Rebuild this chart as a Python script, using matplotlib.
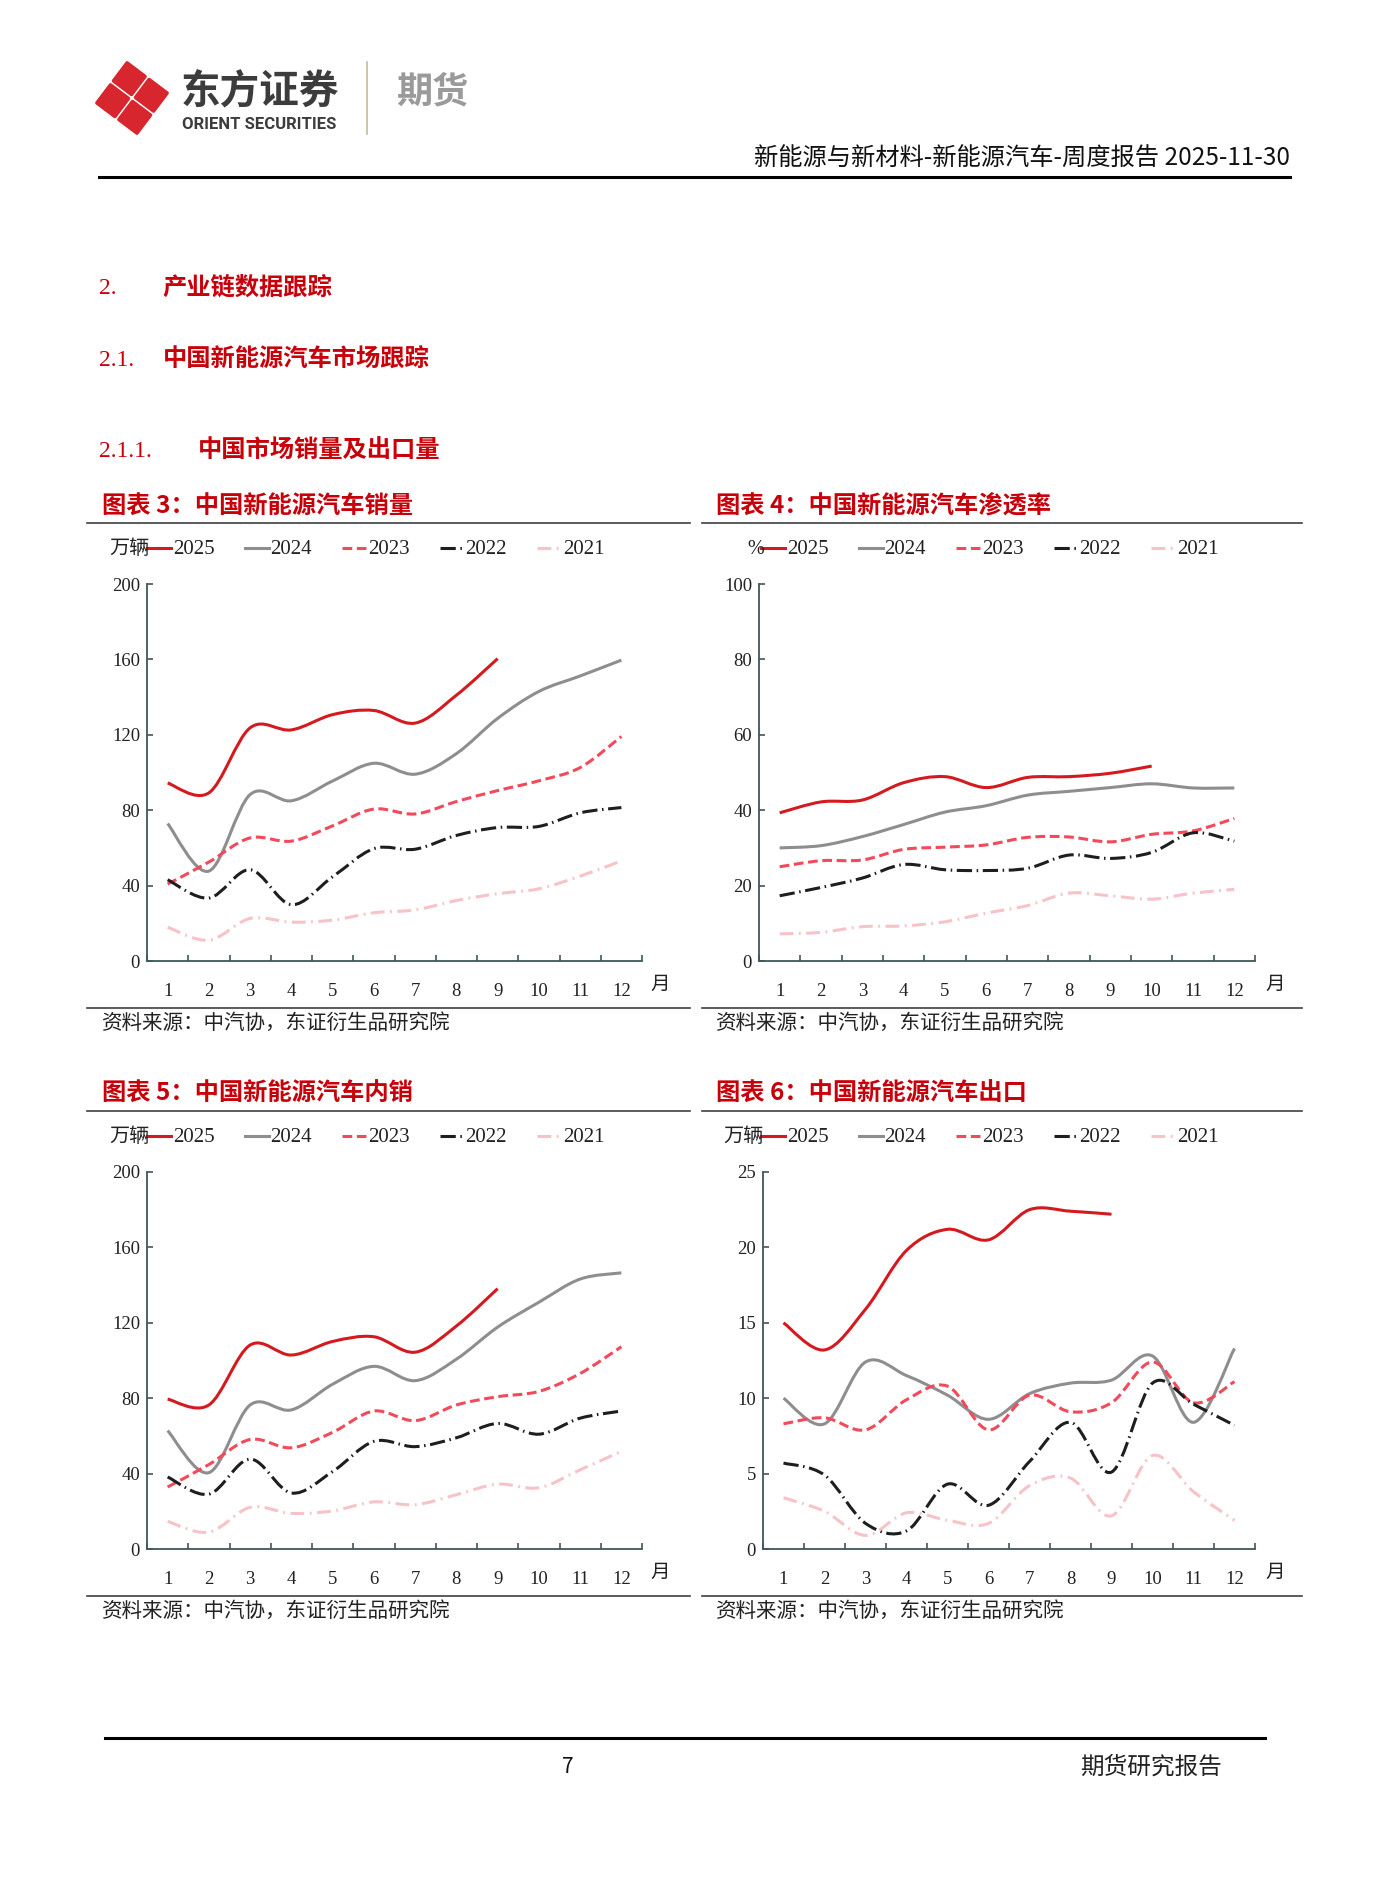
import numpy as np
import matplotlib
matplotlib.use("Agg")
import matplotlib.pyplot as plt
from matplotlib.path import Path
from matplotlib.patches import PathPatch, Polygon
from matplotlib.lines import Line2D

plt.rcParams["font.family"] = ["Liberation Serif", "Noto Sans CJK SC"]

# ---- data ----
months = list(range(1, 13))
month_labels = [str(m) for m in months]
years = ["2025", "2024", "2023", "2022", "2021"]

# 中国新能源汽车销量 (万辆)
sales_2025 = [94.4, 89.2, 123.7, 122.6, 130.7, 132.9, 126.2, 141.0, 160.4]
sales_2024 = [72.9, 47.7, 88.3, 85.0, 95.5, 104.9, 99.1, 110.0, 128.7, 143.0, 151.2, 159.6]
sales_2023 = [40.8, 52.5, 65.3, 63.6, 71.7, 80.6, 78.0, 84.6, 90.4, 95.6, 102.6, 119.1]
sales_2022 = [43.1, 33.4, 48.4, 29.9, 44.7, 59.6, 59.3, 66.6, 70.8, 71.4, 78.6, 81.4]
sales_2021 = [17.9, 11.0, 22.6, 20.6, 21.7, 25.6, 27.1, 32.1, 35.7, 38.3, 45.0, 53.1]

# 中国新能源汽车渗透率 (%)
pen_2025 = [39.3, 42.2, 42.7, 47.3, 48.9, 46.0, 48.7, 48.9, 49.8, 51.7]
pen_2024 = [30.0, 30.6, 33.0, 36.2, 39.5, 41.2, 44.0, 45.0, 46.0, 47.0, 45.9, 45.9]
pen_2023 = [25.0, 26.6, 26.8, 29.6, 30.2, 30.8, 32.8, 32.9, 31.6, 33.6, 34.5, 37.8]
pen_2022 = [17.3, 19.5, 22.0, 25.6, 24.2, 24.0, 24.6, 28.1, 27.2, 28.8, 34.0, 31.8]
pen_2021 = [7.2, 7.6, 9.1, 9.3, 10.4, 12.7, 14.7, 18.0, 17.3, 16.4, 18.0, 19.0]

# 中国新能源汽车内销 (万辆)
dom_2025 = [79.5, 76.4, 108.2, 102.9, 110.1, 112.6, 104.4, 118.3, 138.1]
dom_2024 = [62.8, 40.5, 76.4, 73.8, 87.4, 96.9, 89.3, 100.7, 117.7, 130.9, 143.2, 146.5]
dom_2023 = [32.9, 44.8, 58.1, 53.7, 61.9, 73.2, 68.1, 76.4, 80.8, 83.6, 93.1, 107.3]
dom_2022 = [38.2, 29.1, 47.7, 29.7, 41.1, 57.1, 54.3, 59.0, 66.6, 60.9, 69.4, 73.2]
dom_2021 = [14.6, 8.9, 22.1, 18.9, 20.2, 25.0, 23.5, 28.8, 34.4, 32.5, 42.0, 51.8]

# 中国新能源汽车出口 (万辆)
exp_2025 = [15.0, 13.2, 15.9, 19.8, 21.2, 20.5, 22.5, 22.4, 22.2]
exp_2024 = [10.0, 8.3, 12.4, 11.5, 10.2, 8.6, 10.3, 11.0, 11.2, 12.8, 8.4, 13.3]
exp_2023 = [8.3, 8.7, 7.9, 9.9, 10.8, 7.9, 10.2, 9.1, 9.7, 12.4, 9.7, 11.1]
exp_2022 = [5.7, 4.9, 1.7, 1.2, 4.3, 2.9, 5.8, 8.4, 5.1, 11.0, 9.6, 8.2]
exp_2021 = [3.4, 2.5, 0.9, 2.4, 1.9, 1.7, 4.2, 4.7, 2.2, 6.2, 3.8, 1.9]

W, H = 1389, 1885
RED = "#C8000A"
AXIS = "#3F5858"
CJK = ["Noto Sans CJK SC", "DejaVu Sans"]
SERIF = ["Liberation Serif", "Noto Sans CJK SC"]
LW = 2.2

STYLES = {
    "2025": dict(color="#D41A1F", ls="-"),
    "2024": dict(color="#8E8E8E", ls="-"),
    "2023": dict(color="#F24A5A", ls=(0, (3.2, 1.5))),
    "2022": dict(color="#1E1E1E", ls=(0, (5.0, 1.5, 0.5, 1.5))),
    "2021": dict(color="#F7C3C8", ls=(0, (4.5, 1.8, 0.6, 1.8))),
}


def smooth_path(values):
    # Excel-like smoothed line: cubic Bezier through the monthly points
    pts = np.column_stack([np.arange(1, len(values) + 1, dtype=float),
                           np.asarray(values, dtype=float)])
    ext = np.vstack([pts[:1], pts, pts[-1:]])
    verts = [pts[0]]
    codes = [Path.MOVETO]
    for i in range(len(pts) - 1):
        p0, p1, p2, p3 = ext[i], ext[i + 1], ext[i + 2], ext[i + 3]
        verts += [p1 + (p2 - p0) / 6.0, p2 - (p3 - p1) / 6.0, p2]
        codes += [Path.CURVE4] * 3
    return Path(verts, codes)


fig = plt.figure(figsize=(W / 100, H / 100), dpi=100)
page = fig.add_axes([0, 0, 1, 1])
page.set_xlim(0, W)
page.set_ylim(H, 0)
page.axis("off")

# ---- page header ----
cx, cy, d, r = 132, 98, 19.5, 16
rot = np.deg2rad(-8)
rm = np.array([[np.cos(rot), -np.sin(rot)], [np.sin(rot), np.cos(rot)]])
for ang in [90, 0, 270, 180]:
    a = np.deg2rad(ang)
    ox, oy = d * np.cos(a), -d * np.sin(a)
    diamond = np.array([[0, -r], [r, 0], [0, r], [-r, 0]], dtype=float) + [ox, oy]
    diamond = diamond @ rm.T + [cx, cy]
    page.add_patch(Polygon(diamond, closed=True, facecolor="#D7262E",
                           edgecolor="#D7262E", lw=2.5, joinstyle="round"))
page.text(181, 92, "东方证券", fontsize=28.5, fontweight="bold", color="#3C3C3C",
          family=CJK, ha="left", va="center")
page.text(182, 124, "ORIENT SECURITIES", fontsize=12, fontweight="bold",
          color="#3C3C3C", family=["Roboto", "DejaVu Sans"], ha="left", va="center")
page.plot([367, 367], [62, 134], color="#C9B99B", lw=1.2)
page.text(396, 92, "期货", fontsize=26, fontweight="bold", color="#9A9A9A",
          family=CJK, ha="left", va="center")
page.text(1290, 159, "新能源与新材料-新能源汽车-周度报告 2025-11-30", fontsize=17.5,
          color="#111111", family=CJK, ha="right", va="center")
page.plot([99, 1290], [177, 177], color="black", lw=2.2)

# ---- section headings ----
headings = [("2.", "产业链数据跟踪", 162, 288),
            ("2.1.", "中国新能源汽车市场跟踪", 163, 360),
            ("2.1.1.", "中国市场销量及出口量", 198, 451)]
for num, txt, tx, ty in headings:
    page.text(99, ty, num, fontsize=17, color=RED, family=SERIF, ha="left", va="center")
    page.text(tx, ty, txt, fontsize=17.5, fontweight="bold", color=RED, family=CJK,
              ha="left", va="center")

# ---- charts ----
charts = [
    dict(title="图表 3：中国新能源汽车销量", unit="万辆", col=0, row=0,
         data=[sales_2025, sales_2024, sales_2023, sales_2022, sales_2021],
         ymax=200, ystep=40, axl=147),
    dict(title="图表 4：中国新能源汽车渗透率", unit="%", col=1, row=0,
         data=[pen_2025, pen_2024, pen_2023, pen_2022, pen_2021],
         ymax=100, ystep=20, axl=759),
    dict(title="图表 5：中国新能源汽车内销", unit="万辆", col=0, row=1,
         data=[dom_2025, dom_2024, dom_2023, dom_2022, dom_2021],
         ymax=200, ystep=40, axl=147),
    dict(title="图表 6：中国新能源汽车出口", unit="万辆", col=1, row=1,
         data=[exp_2025, exp_2024, exp_2023, exp_2022, exp_2021],
         ymax=25, ystep=5, axl=763),
]

for ch in charts:
    dy = 588 * ch["row"]
    if ch["col"] == 0:
        tx, lx0, lx1, leg_x, axr, mx = 102, 87, 690, 147, 642, 660
    else:
        tx, lx0, lx1, leg_x, axr, mx = 716, 702, 1302, 761, 1255, 1275

    # title + rules + source
    page.text(tx, 506 + dy, ch["title"], fontsize=17.5, fontweight="bold", color=RED,
              family=CJK, ha="left", va="center")
    page.plot([lx0, lx1], [523 + dy, 523 + dy], color="#404040", lw=1.2)
    page.plot([lx0, lx1], [1008 + dy, 1008 + dy], color="#404040", lw=1.2)
    page.text(tx, 1023 + dy, "资料来源：中汽协，东证衍生品研究院", fontsize=14.8,
              color="#222222", family=CJK, ha="left", va="center")

    # legend
    ly = 548 + dy
    page.text(leg_x + 3, ly + 1, ch["unit"], fontsize=14.5, color="#222222",
              family=SERIF, ha="right", va="center")
    for k, yr in enumerate(years):
        xs = leg_x + k * 97.5
        st = STYLES[yr]
        page.add_line(Line2D([xs, xs + 24], [ly, ly], color=st["color"], lw=LW,
                             linestyle=st["ls"]))
        page.text(xs + 26, ly + 1, yr, fontsize=15, color="#222222", family=SERIF,
                  ha="left", va="center")

    page.text(mx, 984 + dy, "月", fontsize=14, color="#222222", family=CJK,
              ha="center", va="center")

    # plot area
    top, bot = 584 + dy, 961 + dy
    ax = fig.add_axes([ch["axl"] / W, 1 - bot / H, (axr - ch["axl"]) / W, (bot - top) / H])
    ax.set_facecolor("none")
    ax.set_xlim(0.5, 12.5)
    ax.set_ylim(0, ch["ymax"])
    for side in ["top", "right"]:
        ax.spines[side].set_visible(False)
    for side in ["left", "bottom"]:
        ax.spines[side].set_color(AXIS)
        ax.spines[side].set_linewidth(1.3)
    yt = np.arange(0, ch["ymax"] + 0.1, ch["ystep"])
    ax.set_yticks(yt)
    ax.set_yticklabels([f"{v:g}" for v in yt])
    ax.set_xticks(np.arange(0.5, 13, 1.0))
    ax.set_xticklabels([])
    ax.set_xticks(months, minor=True)
    ax.set_xticklabels(month_labels, minor=True)
    ax.tick_params(axis="y", direction="in", length=4, width=1.2, color=AXIS,
                   labelsize=13.5, labelcolor="#222222", pad=5)
    ax.tick_params(axis="x", which="major", direction="in", length=4, width=1.2,
                   color=AXIS)
    ax.tick_params(axis="x", which="minor", length=0, labelsize=13.5,
                   labelcolor="#222222", pad=16)

    for z, (yr, vals) in enumerate(zip(years, ch["data"])):
        st = STYLES[yr]
        ax.add_patch(PathPatch(smooth_path(vals), fill=False, edgecolor=st["color"],
                               lw=LW, linestyle=st["ls"], zorder=3 + z,
                               capstyle="butt", joinstyle="round"))

# ---- footer ----
page.plot([105, 1265], [1738, 1738], color="black", lw=2.2)
page.text(568, 1767, "7", fontsize=15, color="#111111", family=CJK, ha="center",
          va="center")
page.text(1222, 1767, "期货研究报告", fontsize=17, color="#222222", family=CJK,
          ha="right", va="center")

fig.savefig("out.png", dpi=100)
